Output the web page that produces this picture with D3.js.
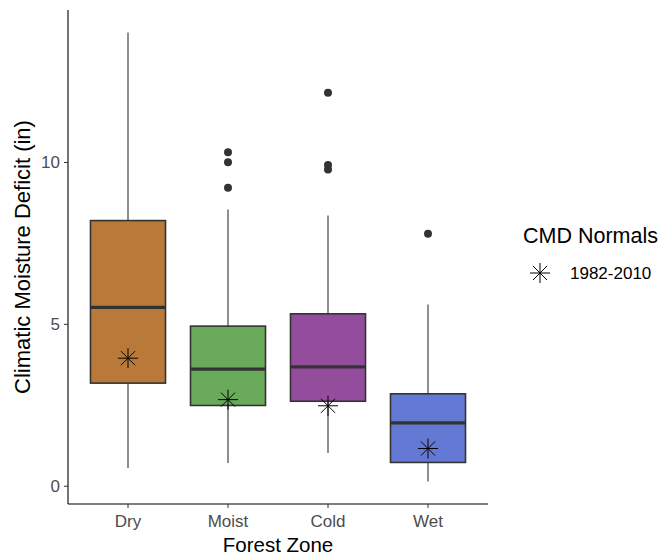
<!doctype html>
<html>
<head>
    <script src="https://cdn.jsdelivr.net/npm/d3@7/dist/d3.min.js"></script>
    <style type="text/css">
        body { margin: 0; background: #fff; }
        #chart { font-family: "Liberation Sans", Arial, sans-serif; }
        .tick text { fill: #4d4d4d; font-size: 17px; }
        .tick line { stroke: #333; }
        .domain { stroke: #000; stroke-width: 1.1px; }
    </style>
</head>
<body>
<svg id="chart" width="663" height="556"></svg>
<script type="text/javascript">
    // box stats
    var zones   = ['Dry', 'Moist', 'Cold', 'Wet'];
    var colors  = ['#b97a39', '#6aaa5b', '#944c9c', '#6479d3'];
    var lower   = [0.55, 0.70, 1.01, 0.13];
    var q1      = [3.17, 2.48, 2.61, 0.72];
    var median  = [5.51, 3.60, 3.67, 1.94];
    var q3      = [8.19, 4.93, 5.31, 2.84];
    var upper   = [14.0, 8.53, 8.35, 5.60];
    var outliers = [[], [10.30, 9.99, 9.20], [12.14, 9.91, 9.77], [7.78]];
    var normals = [3.94, 2.66, 2.47, 1.15];
    var yTicks  = [0, 5, 10];

    var svg = d3.select('#chart');
    var pLeft = 68, pRight = 488, pTop = 10, pBottom = 504;

    var x = d3.scaleBand().domain(zones).range([pLeft, pRight]).paddingOuter(0.1).paddingInner(0);
    // ggplot style 5% expansion
    var lo = 0.13, hi = 14.0, ex = (hi - lo) * 0.05;
    var y = d3.scaleLinear().domain([lo - ex, hi + ex]).range([pBottom, pTop]);

    var bw = x.bandwidth() * 0.75;
    var cx = function(i) { return x(zones[i]) + x.bandwidth() / 2; };

    var g = svg.append('g');
    zones.forEach(function(z, i) {
        // whiskers
        g.append('line').attr('x1', cx(i)).attr('x2', cx(i))
            .attr('y1', y(upper[i])).attr('y2', y(q3[i]))
            .attr('stroke', '#333').attr('stroke-width', 1.1);
        g.append('line').attr('x1', cx(i)).attr('x2', cx(i))
            .attr('y1', y(q1[i])).attr('y2', y(lower[i]))
            .attr('stroke', '#333').attr('stroke-width', 1.1);
        g.append('rect')
            .attr('x', cx(i) - bw / 2).attr('width', bw)
            .attr('y', y(q3[i])).attr('height', y(q1[i]) - y(q3[i]))
            .attr('fill', colors[i]).attr('stroke', '#333').attr('stroke-width', 1.6);
        g.append('line').attr('x1', cx(i) - bw / 2).attr('x2', cx(i) + bw / 2)
            .attr('y1', y(median[i])).attr('y2', y(median[i]))
            .attr('stroke', '#333').attr('stroke-width', 3.2);
        g.selectAll(null).data(outliers[i]).enter().append('circle')
            .attr('cx', cx(i)).attr('cy', function(d) { return y(d); })
            .attr('r', 4).attr('fill', '#333');
    });

    function star(sel, px, py, r) {
        var a = r * 0.7071;
        var s = sel.append('g').attr('stroke', '#000').attr('stroke-width', 1);
        s.append('line').attr('x1', px - r).attr('x2', px + r).attr('y1', py).attr('y2', py);
        s.append('line').attr('x1', px).attr('x2', px).attr('y1', py - r).attr('y2', py + r);
        s.append('line').attr('x1', px - a).attr('x2', px + a).attr('y1', py - a).attr('y2', py + a);
        s.append('line').attr('x1', px - a).attr('x2', px + a).attr('y1', py + a).attr('y2', py - a);
    }
    normals.forEach(function(v, i) { star(g, cx(i), y(v), 10); });

    // axes
    svg.append('g').attr('transform', 'translate(' + pLeft + ',0)')
        .call(d3.axisLeft(y).tickValues(yTicks).tickSize(4).tickPadding(4))
        .call(function(a) { a.select('.domain').attr('d', 'M0,' + pTop + 'V' + pBottom); });
    svg.append('g').attr('transform', 'translate(0,' + pBottom + ')')
        .call(d3.axisBottom(x).tickSize(4).tickPadding(7))
        .call(function(a) { a.select('.domain').attr('d', 'M' + pLeft + ',0H' + pRight); });

    svg.append('text').attr('x', (pLeft + pRight) / 2).attr('y', 552)
        .attr('text-anchor', 'middle').attr('font-size', 20.5).text('Forest Zone');
    svg.append('text').attr('transform', 'translate(30,' + ((pTop + pBottom) / 2) + ') rotate(-90)')
        .attr('text-anchor', 'middle').attr('font-size', 22).text('Climatic Moisture Deficit (in)');

    // legend
    svg.append('text').attr('x', 523).attr('y', 243).attr('font-size', 21.5).text('CMD Normals');
    star(svg, 540, 273, 10);
    svg.append('text').attr('x', 570).attr('y', 279).attr('font-size', 17).text('1982-2010');
</script>
</body>
</html>
